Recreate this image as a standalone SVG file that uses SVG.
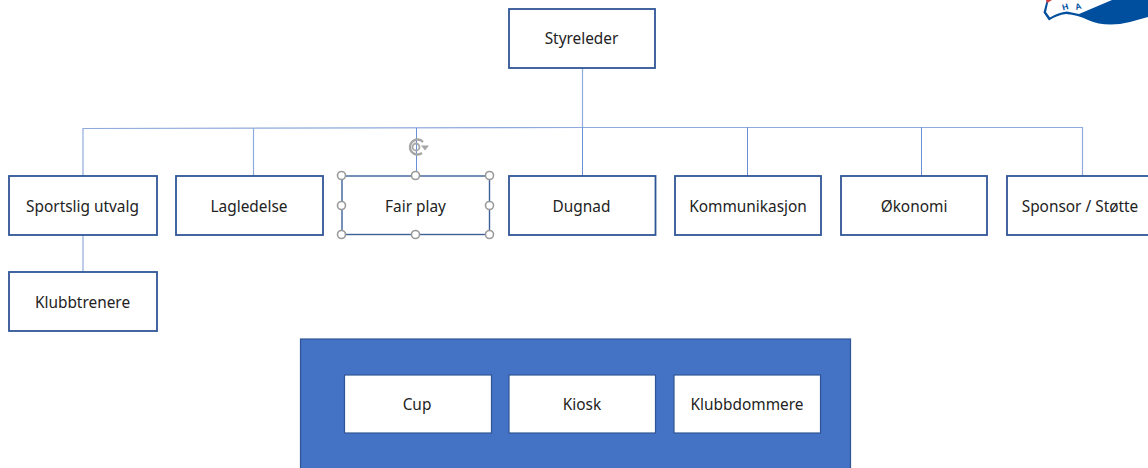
<svg xmlns="http://www.w3.org/2000/svg" width="1148" height="468" viewBox="0 0 1148 468">
<style>
.box{fill:#fff;stroke:#2f5597;stroke-width:1.800}
.inner{fill:#fff;stroke:#2f5597;stroke-width:1.200}
.lbl{font-family:"Noto Sans","Open Sans",sans-serif;font-size:15.400px;fill:#222;text-anchor:middle}
.conn{fill:none;stroke:#8faadc;stroke-width:1.200}
.dark{stroke:#6a8fd6;stroke-width:1}
.h{fill:#fff;stroke:#9a9a9a;stroke-width:1.600}
</style>
<rect width="1148" height="468" fill="#fff"/>
<g id="logo">
<path d="M1046 3 L1043.500 12.500 L1049 20.500 Q1057 15 1066 14 Q1078 15 1088 20 Q1106 28 1130 22 L1148 17 L1148 0 L1047 0 Z" fill="#004f9f"/>
<path d="M1048 3 L1046 12 L1050 17.500 Q1058 12.500 1067 11.500 L1079 14 L1112 0 L1049 0 Z" fill="#fff"/>
<path d="M1046 0H1052L1047 3Z" fill="#d23b3b"/>
<text x="1063" y="10.500" font-family="Liberation Sans,sans-serif" font-size="8.500" font-weight="bold" fill="#004f9f" transform="rotate(-15 1063 10.500)">H</text>
<text x="1076" y="10" font-family="Liberation Sans,sans-serif" font-size="8.500" font-weight="bold" fill="#004f9f" transform="rotate(-15 1076 10)">A</text>
</g>
<g id="connectors">
<path class="conn" d="M582.500 68V127.500"/>
<path class="conn" d="M83 176V128.500L582.500 127.500H1082.500V176"/>
<path class="conn" d="M253.500 128V176"/>
<path class="conn dark" d="M416.500 128V176"/>
<path class="conn dark" d="M582.500 127V176"/>
<path class="conn dark" d="M747.500 127V176"/>
<path class="conn dark" d="M921.500 127V176"/>
<path class="conn" d="M83 235V272"/>
</g>
<g id="styreleder"><rect class="box" x="509" y="9" width="146" height="59"/><text class="lbl" x="581.500" y="44">Styreleder</text></g>
<g id="sportslig-utvalg"><rect class="box" x="9" y="176" width="148" height="59"/><text class="lbl" x="82.500" y="211.500">Sportslig utvalg</text></g>
<g id="lagledelse"><rect class="box" x="176" y="176" width="147" height="59"/><text class="lbl" x="249" y="211.500">Lagledelse</text></g>
<g id="fair-play"><rect x="342" y="176" width="147.500" height="58.500" fill="#fff" stroke="#3d6199" stroke-width="1.400"/><text class="lbl" x="415.500" y="211.500">Fair play</text></g>
<g id="dugnad"><rect class="box" x="509" y="176" width="146.500" height="59"/><text class="lbl" x="581.500" y="211.500">Dugnad</text></g>
<g id="kommunikasjon"><rect class="box" x="675" y="176" width="146" height="59"/><text class="lbl" x="748" y="211.500">Kommunikasjon</text></g>
<g id="okonomi"><rect class="box" x="841" y="176" width="146" height="59"/><text class="lbl" x="914" y="211.500">Økonomi</text></g>
<g id="sponsor-stotte"><rect class="box" x="1007" y="176" width="150" height="59"/><text class="lbl" x="1080" y="211.500">Sponsor / Støtte</text></g>
<g id="klubbtrenere"><rect class="box" x="9" y="272" width="148" height="59"/><text class="lbl" x="82.500" y="307.500">Klubbtrenere</text></g>
<g id="container"><rect x="300.500" y="339" width="550" height="140" fill="#4472c4" stroke="#2f5597" stroke-width="1.200"/></g>
<g id="cup"><rect class="inner" x="344.500" y="375" width="147" height="58"/><text class="lbl" x="417" y="409.500">Cup</text></g>
<g id="kiosk"><rect class="inner" x="509" y="375" width="146.500" height="58"/><text class="lbl" x="582" y="409.500">Kiosk</text></g>
<g id="klubbdommere"><rect class="inner" x="674" y="375" width="146.500" height="58"/><text class="lbl" x="747" y="409.500">Klubbdommere</text></g>
<g id="selection-handles">
<circle class="h" cx="341.500" cy="175.500" r="4"/><circle class="h" cx="415.500" cy="175.500" r="4"/><circle class="h" cx="489.500" cy="175.500" r="4"/>
<circle class="h" cx="341.500" cy="205.500" r="4"/><circle class="h" cx="489.500" cy="205.500" r="4"/>
<circle class="h" cx="341.500" cy="234.500" r="4"/><circle class="h" cx="415.500" cy="234.500" r="4"/><circle class="h" cx="489.500" cy="234.500" r="4"/>
<path d="M423 142A7.500 7.500 0 1 0 422 153" fill="none" stroke="#a6a6a6" stroke-width="2.400"/>
<circle cx="416" cy="147" r="3.500" fill="none" stroke="#a6a6a6" stroke-width="1.800"/>
<path d="M421 145.500H429L425 150.500Z" fill="#a6a6a6"/>
</g>
</svg>
